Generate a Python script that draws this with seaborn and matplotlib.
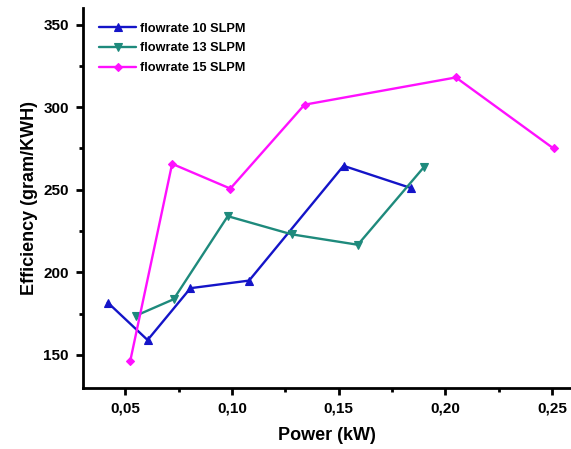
import matplotlib
matplotlib.use("Agg")
import matplotlib.pyplot as plt
from matplotlib.ticker import FuncFormatter, AutoMinorLocator
import seaborn as sns
import pandas as pd

# Measured efficiency at each power setting, per gas flow rate
power_10 = [0.0417, 0.0604, 0.0805, 0.108, 0.1523, 0.184]
eff_10 = [181.7, 159.0, 190.4, 195.0, 264.5, 251.0]

power_13 = [0.055, 0.0726, 0.098, 0.128, 0.159, 0.190]
eff_13 = [173.8, 183.7, 234.0, 223.0, 216.7, 263.7]

power_15 = [0.0523, 0.0719, 0.0992, 0.134, 0.205, 0.2508]
eff_15 = [146.6, 265.7, 250.7, 301.5, 318.0, 275.0]

series_names = ["flowrate 10 SLPM", "flowrate 13 SLPM", "flowrate 15 SLPM"]
series_colors = ["#1414C8", "#1E8A7C", "#FF10FF"]
series_markers = ["^", "v", "D"]

x_ticks = [0.05, 0.10, 0.15, 0.20, 0.25]
y_ticks = [150, 200, 250, 300, 350]

frames = []
for name, xs, ys in zip(series_names,
                        [power_10, power_13, power_15],
                        [eff_10, eff_13, eff_15]):
    frames.append(pd.DataFrame({"power": xs, "eff": ys, "series": name}))
df = pd.concat(frames, ignore_index=True)

sns.set_style("ticks")
plt.rcParams["font.family"] = ["Liberation Sans", "DejaVu Sans"]
plt.rcParams["font.weight"] = "bold"
plt.rcParams["text.color"] = "black"
plt.rcParams["axes.labelcolor"] = "black"
plt.rcParams["xtick.color"] = "black"
plt.rcParams["ytick.color"] = "black"
plt.rcParams["axes.edgecolor"] = "black"

fig = plt.figure(figsize=(5.71, 4.49), dpi=100)
ax = fig.add_axes([0.145, 0.136, 0.855, 0.846])

palette = dict(zip(series_names, series_colors))
sns.lineplot(
    data=df, x="power", y="eff", hue="series", style="series",
    palette=palette,
    markers=dict(zip(series_names, series_markers)),
    dashes=False, sort=False, estimator=None,
    linewidth=1.7, markersize=5.5, ax=ax,
)
# markers drawn solid in their series colour; diamonds a touch smaller
for line in ax.get_lines():
    line.set_markeredgecolor(line.get_color())
    line.set_markeredgewidth(0.8)
    if line.get_marker() == "D":
        line.set_markersize(4.5)

ax.set_xlim(0.03, 0.259)
ax.set_ylim(130, 360)
ax.set_xticks(x_ticks)
ax.set_yticks(y_ticks)
ax.xaxis.set_minor_locator(AutoMinorLocator(2))
ax.yaxis.set_minor_locator(AutoMinorLocator(2))
ax.xaxis.set_major_formatter(FuncFormatter(lambda v, p: f"{v:.2f}".replace(".", ",")))
ax.yaxis.set_major_formatter(FuncFormatter(lambda v, p: f"{v:.0f}"))

sns.despine(ax=ax)
for side in ("left", "bottom"):
    ax.spines[side].set_linewidth(2.0)
ax.tick_params(which="major", direction="out", length=5, width=2.0,
               labelsize=11, pad=5, colors="black")
ax.tick_params(which="minor", direction="out", length=3, width=2.0, colors="black")
for lbl in ax.get_xticklabels() + ax.get_yticklabels():
    lbl.set_fontweight("bold")

ax.set_xlabel("Power (kW)", fontsize=13, fontweight="bold", labelpad=8)
ax.set_ylabel("Efficiency (gram/KWH)", fontsize=13, fontweight="bold", labelpad=4)

leg = ax.legend(loc="upper left", frameon=False, fontsize=9.2,
                handlelength=2.9, handletextpad=0.3, labelspacing=0.6,
                bbox_to_anchor=(0.015, 0.985), borderaxespad=0.3)
for t, h in zip(leg.get_texts(), leg.legend_handles):
    t.set_fontweight("bold")
    h.set_markeredgecolor(h.get_color())

fig.savefig("out.png", dpi=100)
